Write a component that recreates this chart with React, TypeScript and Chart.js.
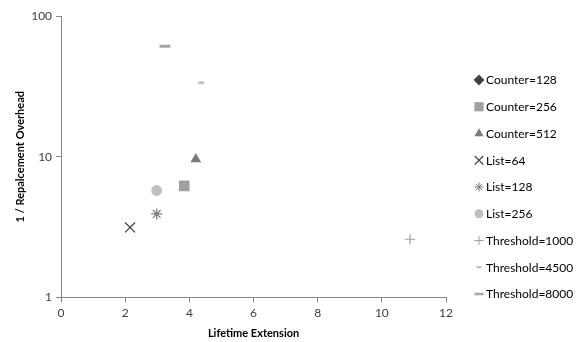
import React, { useEffect, useRef } from "react";
import { Chart, registerables } from "chart.js";
import { drawPoint } from "chart.js/helpers";
Chart.register(...registerables);

const seriesNames = [
  "Counter=128", "Counter=256", "Counter=512", "List=64", "List=128",
  "List=256", "Threshold=1000", "Threshold=4500", "Threshold=8000",
];
const counter128: { x: number; y: number }[] = [];
const counter256 = [{ x: 3.84, y: 6.2 }];
const counter512 = [{ x: 4.2, y: 9.6 }];
const list64 = [{ x: 2.15, y: 3.14 }];
const list128 = [{ x: 2.98, y: 3.92 }];
const list256 = [{ x: 2.98, y: 5.75 }];
const threshold1000 = [{ x: 10.88, y: 2.59 }];
const threshold4500 = [{ x: 4.37, y: 33.5 }];
const threshold8000 = [{ x: 3.24, y: 61 }];
const yTicks = [1, 10, 100];
const xTitle = "Lifetime Extension";
const yTitle = "1 / Repalcement Overhead";

const FONT = "Lato, 'Open Sans', sans-serif";

// legend layout (positions only)
const LEGEND_MARK_X = 479;
const LEGEND_TEXT_X = 486;
const LEGEND_TOP = 80;
const LEGEND_STEP = 26.75;

const sideLegend = {
  id: "sideLegend",
  afterDraw(chart: any) {
    const ctx = chart.ctx;
    ctx.save();
    chart.data.datasets.forEach((ds: any, i: number) => {
      const y = LEGEND_TOP + i * LEGEND_STEP;
      ctx.fillStyle = ds.backgroundColor;
      ctx.strokeStyle = ds.borderColor;
      ctx.lineWidth = ds.legendBorderWidth;
      drawPoint(ctx, {
        pointStyle: ds.pointStyle,
        radius: ds.legendRadius,
        rotation: 0,
        borderWidth: ds.legendBorderWidth,
      } as any, LEGEND_MARK_X, y);
      ctx.fillStyle = "#000";
      ctx.font = `12px ${FONT}`;
      ctx.textAlign = "left";
      ctx.textBaseline = "middle";
      ctx.fillText(ds.label, LEGEND_TEXT_X, y + 0.5);
    });
    ctx.restore();
  },
};

export default function App() {
  const ref = useRef<HTMLCanvasElement>(null);
  useEffect(() => {
    const styles = [
      { d: counter128, ps: "rectRot", r: 5, lr: 5.2, bg: "#404040", bc: "#404040", bw: 1, lbw: 0.5 },
      { d: counter256, ps: "rect", r: 7.5, lr: 6.5, bg: "#a0a0a0", bc: "#a0a0a0", bw: 0, lbw: 0 },
      { d: counter512, ps: "triangle", r: 6.2, lr: 5.3, bg: "#7a7a7a", bc: "#7a7a7a", bw: 0, lbw: 0 },
      { d: list64, ps: "crossRot", r: 7, lr: 6, bg: "#404040", bc: "#404040", bw: 1.2, lbw: 1.1 },
      { d: list128, ps: "star", r: 5.5, lr: 4.5, bg: "#7a7a7a", bc: "#7a7a7a", bw: 1.2, lbw: 1 },
      { d: list256, ps: "circle", r: 5.4, lr: 4.5, bg: "#bfbfbf", bc: "#bfbfbf", bw: 0, lbw: 0 },
      { d: threshold1000, ps: "cross", r: 5, lr: 4.5, bg: "#a0a0a0", bc: "#a0a0a0", bw: 1.2, lbw: 1 },
      { d: threshold4500, ps: "line", r: 3, lr: 2.5, bg: "#c4c4c4", bc: "#c4c4c4", bw: 3, lbw: 2.5 },
      { d: threshold8000, ps: "line", r: 5.5, lr: 4.5, bg: "#a8a8a8", bc: "#a8a8a8", bw: 3, lbw: 2.5 },
    ];
    const chart = new Chart(ref.current!, {
      type: "scatter",
      data: {
        datasets: styles.map((s, i) => ({
          label: seriesNames[i],
          data: s.d,
          pointStyle: s.ps as any,
          pointRadius: s.r,
          pointHoverRadius: s.r,
          backgroundColor: s.bg,
          borderColor: s.bc,
          pointBorderWidth: s.bw,
          borderWidth: s.bw,
          legendRadius: s.lr,
          legendBorderWidth: s.lbw,
        })) as any,
      },
      options: {
        animation: false,
        responsive: false,
        layout: { padding: { top: 16, left: 10, right: 134, bottom: 0 } },
        plugins: {
          tooltip: { enabled: false },
          legend: { display: false },
        },
        scales: {
          x: {
            type: "linear",
            min: 0,
            max: 12,
            ticks: { stepSize: 2, color: "#404040", font: { family: FONT, size: 12 }, padding: 4 },
            grid: { drawOnChartArea: false, tickLength: 5, color: "#868686" },
            border: { color: "#868686" },
            title: { display: true, text: xTitle, color: "#000", font: { family: FONT, size: 11, weight: "bold" }, padding: { top: 2, bottom: 2 } },
          },
          y: {
            type: "logarithmic",
            min: 1,
            max: 100,
            afterBuildTicks: (axis: any) => {
              axis.ticks = yTicks.map((v) => ({ value: v }));
            },
            ticks: {
              color: "#404040",
              font: { family: FONT, size: 12 },
              padding: 4,
              callback: (v: any) => String(v),
            },
            grid: { drawOnChartArea: false, tickLength: 5, color: "#868686" },
            border: { color: "#868686" },
            title: { display: true, text: yTitle, color: "#000", font: { family: FONT, size: 11, weight: "bold" }, padding: { top: 4, bottom: 0 } },
          },
        },
      },
      plugins: [sideLegend],
    });
    return () => chart.destroy();
  }, []);
  return (
    <div style={{ position: "fixed", left: 0, top: 0, width: 580, height: 342, background: "#fff" }}>
      <canvas ref={ref} width={580} height={342} />
    </div>
  );
}
